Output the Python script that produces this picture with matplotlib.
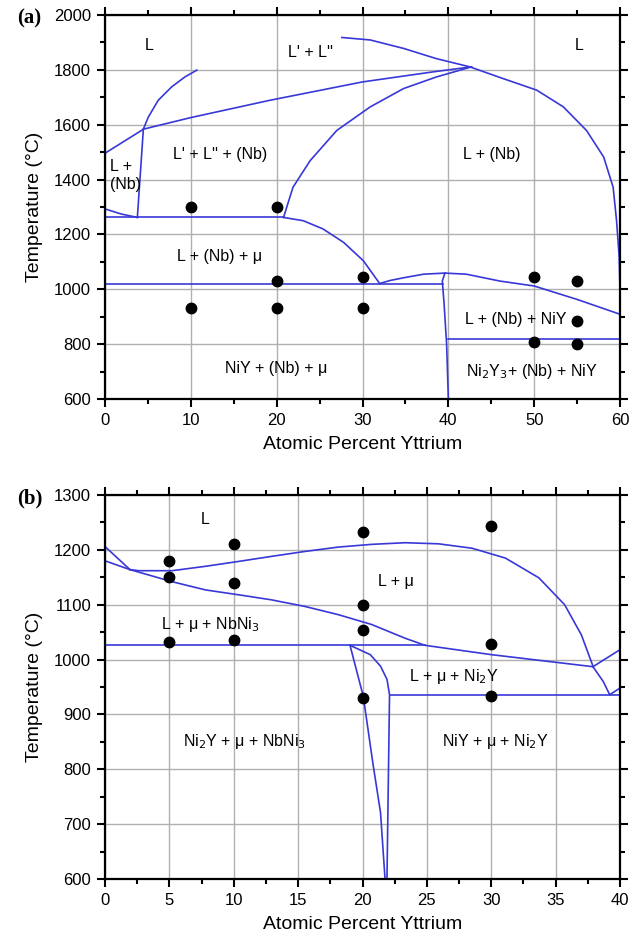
import matplotlib; matplotlib.use('Agg')
import matplotlib.pyplot as plt, numpy as np
from matplotlib.ticker import MultipleLocator

plt.rcParams.update({'font.family': ['Liberation Sans', 'DejaVu Sans'], 'font.size': 11})
BLUE = '#3838d8'

# ---- panel (a): x = at.% Y, T in C ----
a_liq_left_x = [0, 4.5, 10, 19.2, 30, 38.3, 42.7]
a_liq_left_t = [1496, 1584, 1626, 1689, 1756, 1793, 1811]
a_nb_top_x = [4.47, 5.05, 6.2, 7.77, 9.3, 10.7]
a_nb_top_t = [1584, 1628, 1689, 1738, 1774, 1799]
a_nb_sol_x = [0, 1.94, 3.77]
a_nb_sol_t = [1293, 1274, 1262]
a_vert_x = [3.77, 4.47]
a_vert_t = [1262, 1584]
a_liq_right_x = [20.8, 21.9, 23.9, 27.0, 30.9, 34.8, 38.6, 42.7]
a_liq_right_t = [1262, 1372, 1469, 1579, 1665, 1732, 1774, 1811]
a_dome_x = [27.6, 30.9, 34.8, 38.6, 42.5, 46.4, 50.3, 53.4, 56.1, 58.1, 59.2, 59.6, 59.9, 60]
a_dome_t = [1918, 1909, 1878, 1841, 1811, 1768, 1726, 1665, 1579, 1482, 1372, 1250, 1120, 1000]
a_mu_x = [20.8, 23.1, 25.4, 27.8, 30.1, 32]
a_mu_t = [1262, 1250, 1220, 1171, 1104, 1021]
a_niy1_x = [32, 33.2, 34.8, 37.1, 39.6]
a_niy1_t = [1021, 1032, 1042, 1055, 1059]
a_niy2_x = [39.6, 42.1, 46, 50, 55, 60]
a_niy2_t = [1059, 1055, 1030, 1012, 963, 909]
a_niy_line_x = [39.6, 39.3, 39.5, 39.8, 40]
a_niy_line_t = [1059, 1030, 950, 800, 600]
a_iso_x = [[0, 20.8], [0, 39.4], [40, 60]]
a_iso_t = [1262, 1020, 820]

a_pts_x = [10, 20, 10, 20, 20, 30, 30, 50, 50, 55, 55, 55]
a_pts_t = [1300, 1300, 930, 1030, 930, 1045, 930, 1043, 808, 1030, 885, 800]

a_labels = ['L', "L' + L''", 'L', 'L +\n(Nb)', "L' + L'' + (Nb)", 'L + (Nb)',
            'L + (Nb) + μ', 'NiY + (Nb) + μ', 'L + (Nb) + NiY',
            r'Ni$_2$Y$_3$+ (Nb) + NiY']
a_lab_x = [5.2, 23.9, 55.3, 0.6, 13.4, 45.1, 13.4, 19.9, 47.8, 49.7]
a_lab_t = [1890, 1865, 1890, 1415, 1490, 1490, 1120, 710, 890, 700]

# ---- panel (b) ----
b_c1_x = [0, 1.94]
b_c1_t = [1206, 1164]
b_up_x = [1.94, 2.6, 5.2, 7.8, 10.4, 12.9, 15.5, 18.1, 20.7, 23.3, 25.9, 28.5,
          31.1, 33.7, 35.7, 37.0, 37.9]
b_up_t = [1164, 1162, 1162, 1170, 1179, 1188, 1197, 1205, 1210, 1213, 1211, 1203,
          1185, 1149, 1100, 1045, 988]
b_low_x = [0, 1.94, 5.2, 7.8, 10.4, 12.9, 15.5, 18.1, 20.7, 23.3, 24.85, 30, 37.9]
b_low_t = [1180, 1164, 1142, 1127, 1118, 1109, 1097, 1082, 1064, 1039, 1026, 1009, 987]
b_br_x = [[37.9, 40], [37.9, 38.7, 39.2, 40]]
b_br_t = [[987, 1018], [987, 960, 936, 948]]
b_ni2y_l_x = [19.03, 20.06, 20.8, 21.4, 21.75]
b_ni2y_l_t = [1026, 933, 812, 721, 600]
b_ni2y_c_x = [19.03, 20.6, 21.4, 21.9, 22.1, 21.9]
b_ni2y_c_t = [1026, 1009, 988, 964, 936, 600]
b_iso_x = [[0, 24.85], [22.1, 40]]
b_iso_t = [1026, 936]

b_pts_x = [5, 5, 5, 10, 10, 10, 20, 20, 20, 20, 30, 30, 30]
b_pts_t = [1180, 1150, 1032, 1210, 1140, 1035, 1232, 1100, 1053, 930, 1243, 1028, 933]

b_labels = ['L', 'L + μ', r'L + μ + NbNi$_3$', r'L + μ + Ni$_2$Y',
            r'Ni$_2$Y + μ + NbNi$_3$', r'NiY + μ + Ni$_2$Y']
b_lab_x = [7.8, 22.6, 8.2, 27.1, 10.8, 30.3]
b_lab_t = [1255, 1142, 1064, 970, 851, 851]

W, H = 643, 944
fig = plt.figure(figsize=(W / 100, H / 100), dpi=100)
axa = fig.add_axes([105 / W, 1 - 399 / H, 515 / W, 384 / H])
axb = fig.add_axes([105 / W, 1 - 879 / H, 515 / W, 384 / H])


def style(ax, xmax, xmaj, ymin, ymax, ymaj):
    ax.set_xlim(0, xmax)
    ax.set_ylim(ymin, ymax)
    ax.xaxis.set_major_locator(MultipleLocator(xmaj))
    ax.xaxis.set_minor_locator(MultipleLocator(xmaj / 2))
    ax.yaxis.set_major_locator(MultipleLocator(ymaj))
    ax.yaxis.set_minor_locator(MultipleLocator(ymaj / 2))
    ax.grid(True, which='major', color='#b0b0b0', lw=1.0)
    ax.set_axisbelow(True)
    ax.tick_params(which='both', direction='out', top=True, right=True,
                   labeltop=False, labelright=False, labelsize=12, width=1.5)
    ax.tick_params(which='major', length=6, pad=4)
    ax.tick_params(which='minor', length=3.5)
    for s in ax.spines.values():
        s.set_linewidth(1.6)
    ax.set_xlabel('Atomic Percent Yttrium', fontsize=14, labelpad=6)
    ax.set_ylabel('Temperature (°C)', fontsize=14, labelpad=8)


kw = dict(color=BLUE, lw=1.2)

# panel (a)
style(axa, 60, 10, 600, 2000, 200)
for xs, ts in [(a_liq_left_x, a_liq_left_t), (a_nb_top_x, a_nb_top_t),
               (a_nb_sol_x, a_nb_sol_t), (a_vert_x, a_vert_t),
               (a_liq_right_x, a_liq_right_t), (a_dome_x, a_dome_t),
               (a_mu_x, a_mu_t), (a_niy1_x, a_niy1_t), (a_niy2_x, a_niy2_t),
               (a_niy_line_x, a_niy_line_t)]:
    axa.plot(xs, ts, **kw)
for xs, t in zip(a_iso_x, a_iso_t):
    axa.plot(xs, [t, t], **kw)
axa.plot(a_pts_x, a_pts_t, 'o', color='black', ms=7.5, zorder=5)
for s, x, t in zip(a_labels, a_lab_x, a_lab_t):
    ha = 'left' if x < 2 else 'center'
    axa.text(x, t, s, ha=ha, va='center', fontsize=11.5, linespacing=1.3)
fig.text(17 / W, 1 - 18 / H, '(a)', fontsize=15, fontweight='bold',
         family='Liberation Serif', ha='left', va='center')

# panel (b)
style(axb, 40, 5, 600, 1300, 100)
for xs, ts in [(b_c1_x, b_c1_t), (b_up_x, b_up_t), (b_low_x, b_low_t),
               (b_ni2y_l_x, b_ni2y_l_t), (b_ni2y_c_x, b_ni2y_c_t)]:
    axb.plot(xs, ts, **kw)
for xs, ts in zip(b_br_x, b_br_t):
    axb.plot(xs, ts, **kw)
for xs, t in zip(b_iso_x, b_iso_t):
    axb.plot(xs, [t, t], **kw)
axb.plot(b_pts_x, b_pts_t, 'o', color='black', ms=7.5, zorder=5)
for s, x, t in zip(b_labels, b_lab_x, b_lab_t):
    axb.text(x, t, s, ha='center', va='center', fontsize=11.5)
fig.text(17 / W, 1 - 498 / H, '(b)', fontsize=15, fontweight='bold',
         family='Liberation Serif', ha='left', va='center')

fig.savefig('out.png', dpi=100)
plt.close(fig)
